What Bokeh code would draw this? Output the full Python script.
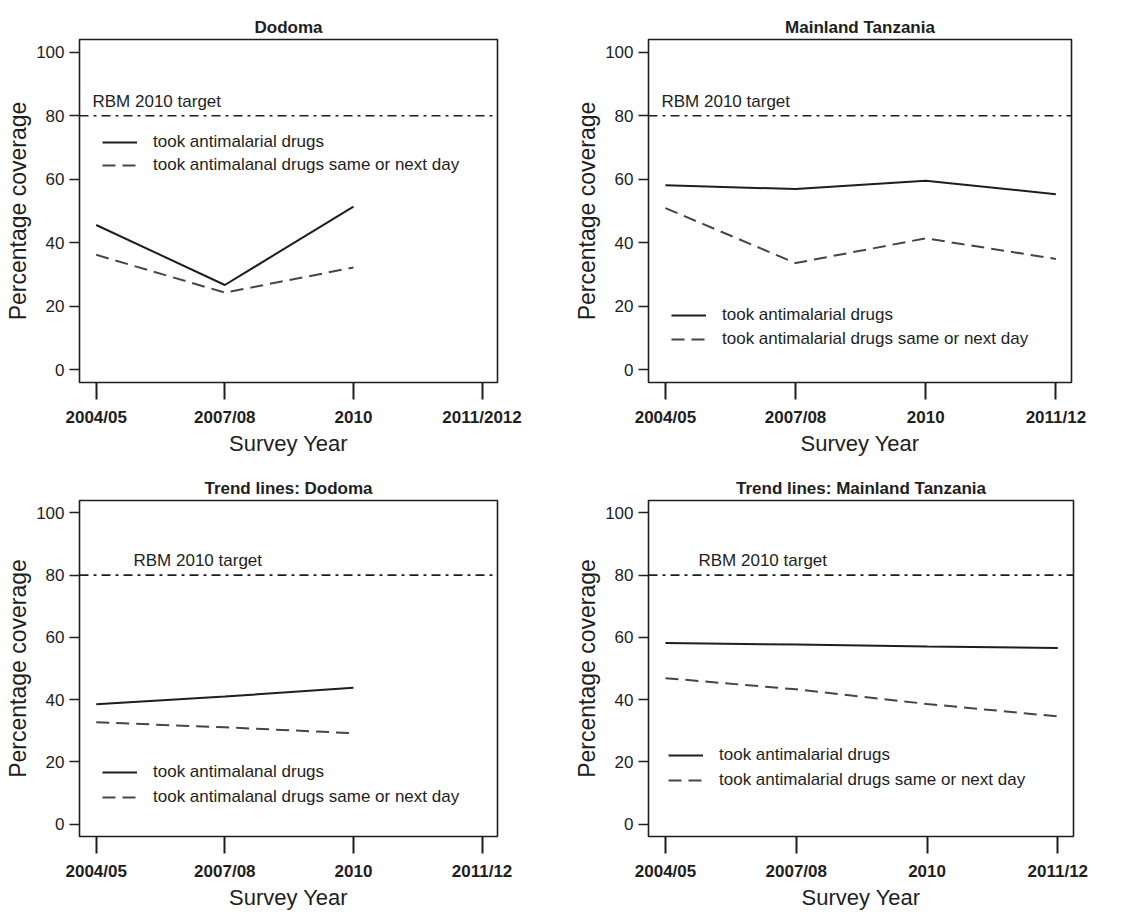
from bokeh.plotting import figure
from bokeh.layouts import column, row
from bokeh.models import FixedTicker, Span, Label, Legend
from bokeh.embed import file_html
from bokeh.resources import INLINE

# ---------------- data ----------------
survey_years = ["2004/05", "2007/08", "2010", "2011/12"]
survey_years_dodoma = ["2004/05", "2007/08", "2010", "2011/2012"]
y_ticks = [0, 20, 40, 60, 80, 100]
rbm_target = 80

dodoma_took = [45.6, 26.7, 51.4]
dodoma_same_day = [36.2, 24.3, 32.2]

mainland_took = [58.1, 56.9, 59.5, 55.3]
mainland_same_day = [50.9, 33.6, 41.4, 34.9]

trend_dodoma_took = [38.5, 41.0, 43.8]
trend_dodoma_same_day = [32.7, 31.1, 29.2]

trend_mainland_took = [58.2, 57.7, 57.1, 56.6]
trend_mainland_same_day = [46.9, 43.3, 38.6, 34.6]

FONT = "Liberation Sans"
INK = "#1e1e1e"
X_START, X_END = -0.13, 3.12


def make_panel(title, tick_labels, took, same_day, lab1, lab2,
               borders, legend_xy, legend_spacing, rbm_label_x):
    L, T, R, B = borders
    p = figure(width=571, height=459, x_range=(X_START, X_END), y_range=(-4, 104),
               output_backend="svg", toolbar_location=None,
               min_border_left=L, min_border_top=T,
               min_border_right=R, min_border_bottom=B)
    p.background_fill_color = "white"
    p.border_fill_color = "white"
    p.outline_line_color = INK
    p.outline_line_width = 1.6
    p.grid.visible = False

    p.title.text = title
    p.title.align = "center"
    p.title.text_font = FONT
    p.title.text_font_style = "bold"
    p.title.text_font_size = "17px"
    p.title.text_color = INK
    p.title.standoff = 5

    xa = p.xaxis[0]
    xa.ticker = FixedTicker(ticks=list(range(len(tick_labels))))
    xa.major_label_overrides = {i: t for i, t in enumerate(tick_labels)}
    xa.axis_line_color = None
    xa.major_tick_in = 0
    xa.major_tick_out = 17
    xa.major_tick_line_width = 2
    xa.major_tick_line_color = INK
    xa.minor_tick_line_color = None
    xa.major_label_standoff = 8
    xa.major_label_text_font = FONT
    xa.major_label_text_font_style = "bold"
    xa.major_label_text_font_size = "17px"
    xa.major_label_text_color = INK
    xa.axis_label = "Survey Year"
    xa.axis_label_text_font = FONT
    xa.axis_label_text_font_style = "normal"
    xa.axis_label_text_font_size = "22px"
    xa.axis_label_text_color = INK
    xa.axis_label_standoff = 1

    ya = p.yaxis[0]
    ya.ticker = FixedTicker(ticks=y_ticks)
    ya.axis_line_color = None
    ya.major_tick_in = 0
    ya.major_tick_out = 10
    ya.major_tick_line_width = 1.5
    ya.major_tick_line_color = INK
    ya.minor_tick_line_color = None
    ya.major_label_standoff = 5
    ya.major_label_text_font = FONT
    ya.major_label_text_font_size = "17px"
    ya.major_label_text_color = INK
    ya.axis_label = "Percentage coverage"
    ya.axis_label_text_font = FONT
    ya.axis_label_text_font_style = "normal"
    ya.axis_label_text_font_size = "23px"
    ya.axis_label_text_color = INK
    ya.axis_label_standoff = 2

    target = Span(location=rbm_target, dimension="width", line_color=INK,
                  line_width=1.6, line_dash="9 5 3 5")
    p.add_layout(target)
    p.add_layout(Label(x=rbm_label_x, y=rbm_target, x_units="screen", y_units="data",
                       y_offset=5, text="RBM 2010 target", text_font=FONT,
                       text_font_size="17px", text_color=INK,
                       text_baseline="bottom"))

    r1 = p.line(list(range(len(took))), took, line_color=INK, line_width=2)
    r2 = p.line(list(range(len(same_day))), same_day, line_color="#454545",
                line_width=2, line_dash="13 7")

    legend = Legend(items=[(lab1, [r1]), (lab2, [r2])], location=legend_xy,
                    border_line_color=None, background_fill_alpha=0,
                    padding=0, margin=0, spacing=legend_spacing,
                    glyph_width=35, glyph_height=20, label_height=20,
                    label_standoff=16, label_text_font=FONT,
                    label_text_font_size="17px", label_text_color=INK)
    p.add_layout(legend)
    return p


p1 = make_panel("Dodoma", survey_years_dodoma, dodoma_took, dodoma_same_day,
                "took antimalarial drugs", "took antimalanal drugs same or next day",
                (79, 39, 74, 76), (23, 207), 3, 13)
p2 = make_panel("Mainland Tanzania", survey_years, mainland_took, mainland_same_day,
                "took antimalarial drugs", "took antimalarial drugs same or next day",
                (70, 39, 71, 77), (23, 33), 4, 13)
p3 = make_panel("Trend lines: Dodoma", survey_years, trend_dodoma_took, trend_dodoma_same_day,
                "took antimalanal drugs", "took antimalanal drugs same or next day",
                (79, 41, 74, 79), (23, 29), 5, 54)
p4 = make_panel("Trend lines: Mainland Tanzania", survey_years, trend_mainland_took,
                trend_mainland_same_day,
                "took antimalarial drugs", "took antimalarial drugs same or next day",
                (73, 38, 69, 82), (20, 46), 5, 50)

layout = column(row(p1, p2), row(p3, p4))
open("out.html", "w").write(file_html(layout, INLINE))
